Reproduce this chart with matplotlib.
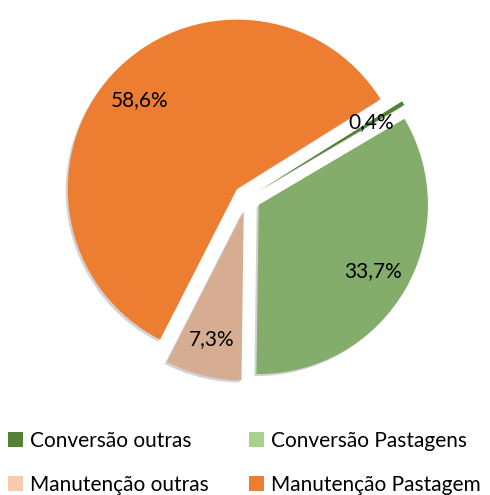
import matplotlib.pyplot as plt
from matplotlib.patches import Patch
import matplotlib.patheffects as pe

plt.rcParams["font.family"] = ["Lato", "DejaVu Sans"]

categories = ["Conversão outras", "Conversão Pastagens", "Manutenção outras", "Manutenção Pastagem"]
shares = [0.4, 33.7, 7.3, 58.6]

# slices are drawn a bit darker than the legend swatches
pie_colors = ["#548235", "#84AC6A", "#D6AD93", "#ED7D31"]
legend_colors = ["#548235", "#A9D18E", "#F8CBAD", "#ED7D31"]

fig = plt.figure(figsize=(4.9, 4.95), dpi=100)
ax = fig.add_axes([27 / 490, 1 - 418 / 495, 440 / 490, 440 / 495])

wedges, texts, autotexts = ax.pie(
    shares,
    colors=pie_colors,
    startangle=32,
    counterclock=False,
    explode=[0.08] * len(shares),
    autopct=lambda p: f"{p:.1f}%".replace(".", ","),
    pctdistance=0.78,
    textprops=dict(fontsize=15, color="black"),
    wedgeprops=dict(linewidth=0),
)

for w in wedges:
    w.set_path_effects([
        pe.SimplePatchShadow(offset=(-1.5, -1.5), shadow_rgbFace="#808080", alpha=0.35),
        pe.Normal(),
    ])

ax.set_xlim(-1.3, 1.3)
ax.set_ylim(-1.3, 1.3)
ax.axis("off")

# legend is filled column by column, so interleave to get row order
order = [0, 2, 1, 3]
handles = [Patch(facecolor=legend_colors[i], edgecolor="none") for i in order]
fig.legend(
    handles, [categories[i] for i in order],
    loc="upper left",
    bbox_to_anchor=(8 / 490, 1 - 431 / 495),
    ncol=2,
    frameon=False,
    fontsize=15,
    handlelength=0.72,
    handleheight=0.72,
    handletextpad=0.35,
    columnspacing=1.9,
    labelspacing=1.15,
    borderpad=0,
    borderaxespad=0,
)

fig.savefig("out.png", dpi=100)
